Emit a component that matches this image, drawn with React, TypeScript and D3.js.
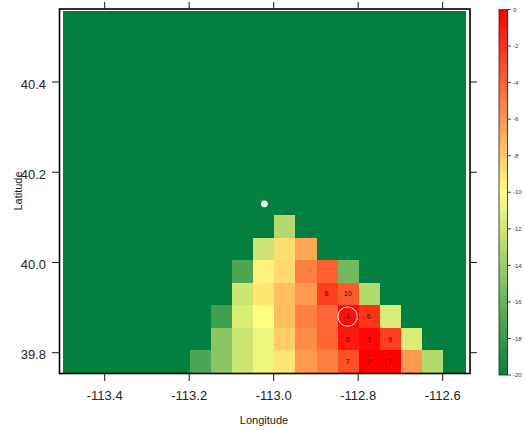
import React from "react";
import * as d3 from "d3";

const W = 525, H = 430;
const lonEdges = d3.range(0, 19).map((i) => -113.4985 + i * 0.05);
const latEdges = d3.range(0, 16).map((i) => 39.755 + i * 0.05);
const BG = -20;
// each row: first column index, then values (all other cells are background)
const row0 = { start: 6, values: [-17, -14.5, -12, -10.7, -9, -6, -5, -3, 0, 0, -6, -13] };
const row1 = { start: 7, values: [-14.5, -12, -10.7, -8, -5.5, -4, -1, -0.3, -2.5, -11.5] };
const row2 = { start: 7, values: [-17.5, -11.5, -10, -7.5, -5, -4, -0.5, -2, -11.5] };
const row3 = { start: 8, values: [-12, -9, -7.5, -6, -2.5, -3.5, -13] };
const row4 = { start: 8, values: [-17, -9.5, -8.5, -5, -3.7, -15.5] };
const row5 = { start: 9, values: [-12, -8.7, -6.5] };
const row6 = { start: 10, values: [-13] };
const rows = [row0, row1, row2, row3, row4, row5, row6];

const rankLons = [-112.725, -112.775, -112.775, -112.825, -112.825, -112.775, -112.825, -112.875, -112.725, -112.825];
const rankLats = [39.78, 39.78, 39.83, 39.88, 39.83, 39.88, 39.78, 39.93, 39.83, 39.93];
const rankLabels = ["1", "2", "3", "4", "5", "6", "7", "8", "9", "10"];
const dotLon = -113.022, dotLat = 40.13;
const circleLon = -112.825, circleLat = 39.88;

const xTicks = [-113.4, -113.2, -113.0, -112.8, -112.6];
const yTicks = [39.8, 40.0, 40.2, 40.4];
const barTicks = [0, -2, -4, -6, -8, -10, -12, -14, -16, -18, -20];

const box = { l: 59.5, r: 470, t: 9, b: 373.5 };
const x = d3.scaleLinear().domain([-113, -112.6]).range([273.7, 442.7]);
const y = d3.scaleLinear().domain([39.8, 40.4]).range([352.7, 82]);
const color = d3.scaleLinear<string>().domain([-20, -10, 0]).range(["#007f3f", "#ffff80", "#ff0000"]);
const bar = d3.scaleLinear().domain([0, -20]).range([9.5, 375]);
const barX0 = 499, barX1 = 507.5;
const FF = "'Liberation Sans', Arial, sans-serif";
const tickC = "#111";
const fmt = (v: number) => d3.format(".1f")(v).replace("\u2212", "-");

const cellValue = (col: number, rowIdx: number) => {
  const r = rows[rowIdx];
  if (!r) return BG;
  const v = r.values[col - r.start];
  return v === undefined ? BG : v;
};

export default function App() {
  const dw = 0.05;
  const barLevels = d3.range(0, 100).map((i) => -i * 0.2);
  const topRow = latEdges.length - 1;
  const lastCol = lonEdges.length - 1;
  return (
    <svg width={W} height={H} style={{ position: "absolute", left: 0, top: 0, background: "#fff" }}>
      <g shapeRendering="crispEdges">
        {latEdges.map((lat, ri) =>
          lonEdges.map((lon, ci) => {
            const x0 = Math.round(x(lon));
            const x1 = Math.round(x(lon + dw)) + (ci === lastCol ? 2 : 0);
            const y0 = Math.round(y(lat + dw)) - (ri === topRow ? 1 : 0);
            const y1 = Math.round(y(lat));
            return (
              <rect
                key={`${ri}-${ci}`}
                x={x0}
                y={y0}
                width={x1 - x0}
                height={y1 - y0}
                fill={color(cellValue(ci, ri))}
              />
            );
          })
        )}
      </g>
      <rect x={box.l} y={box.t} width={box.r - box.l} height={box.b - box.t} fill="none" stroke="#000" strokeWidth={1.6} />
      {xTicks.map((t) => (
        <g key={t} stroke={tickC} strokeWidth={1}>
          <line x1={x(t)} x2={x(t)} y1={box.b} y2={381} />
          <line x1={x(t)} x2={x(t)} y1={2} y2={box.t} />
        </g>
      ))}
      {xTicks.map((t) => (
        <text key={t} x={x(t)} y={400} textAnchor="middle" fontFamily={FF} fontSize={13} fill="#222">
          {fmt(t)}
        </text>
      ))}
      {yTicks.map((t) => (
        <g key={t} stroke={tickC} strokeWidth={1}>
          <line x1={52} x2={box.l} y1={y(t)} y2={y(t)} />
          <line x1={box.r} x2={477} y1={y(t)} y2={y(t)} />
        </g>
      ))}
      {yTicks.map((t) => (
        <text key={t} x={46} y={y(t) + 6.5} textAnchor="end" fontFamily={FF} fontSize={13} fill="#222">
          {fmt(t)}
        </text>
      ))}
      <text x={264} y={424} textAnchor="middle" fontFamily={FF} fontSize={11} fill="#222">Longitude</text>
      <text transform="translate(22,191) rotate(-90)" textAnchor="middle" fontFamily={FF} fontSize={11} fill="#222">Latitude</text>

      {rankLabels.map((l, i) => (
        <text key={l} x={x(rankLons[i])} y={y(rankLats[i]) + 2.4} textAnchor="middle" fontFamily={FF} fontSize={7} fill="#1a1a1a">
          {l}
        </text>
      ))}
      <circle cx={x(circleLon)} cy={y(circleLat)} r={9.7} fill="none" stroke="#fff" strokeWidth={1} />
      <circle cx={x(dotLon)} cy={y(dotLat)} r={3.4} fill="#fff" />

      <g shapeRendering="crispEdges">
        {barLevels.map((v) => (
          <rect key={v} x={barX0} y={bar(v)} width={barX1 - barX0} height={bar(v - 0.2) - bar(v) + 0.3} fill={color(v)} />
        ))}
      </g>
      <rect x={barX0} y={bar(0)} width={barX1 - barX0} height={bar(-20) - bar(0)} fill="none" stroke="#222" strokeWidth={0.8} />
      {barTicks.map((t) => (
        <g key={t}>
          <line x1={barX1} x2={511} y1={bar(t)} y2={bar(t)} stroke={tickC} strokeWidth={0.8} />
          <text x={513} y={bar(t) + 2.2} fontFamily={FF} fontSize={6} fill="#333">{t}</text>
        </g>
      ))}
    </svg>
  );
}
